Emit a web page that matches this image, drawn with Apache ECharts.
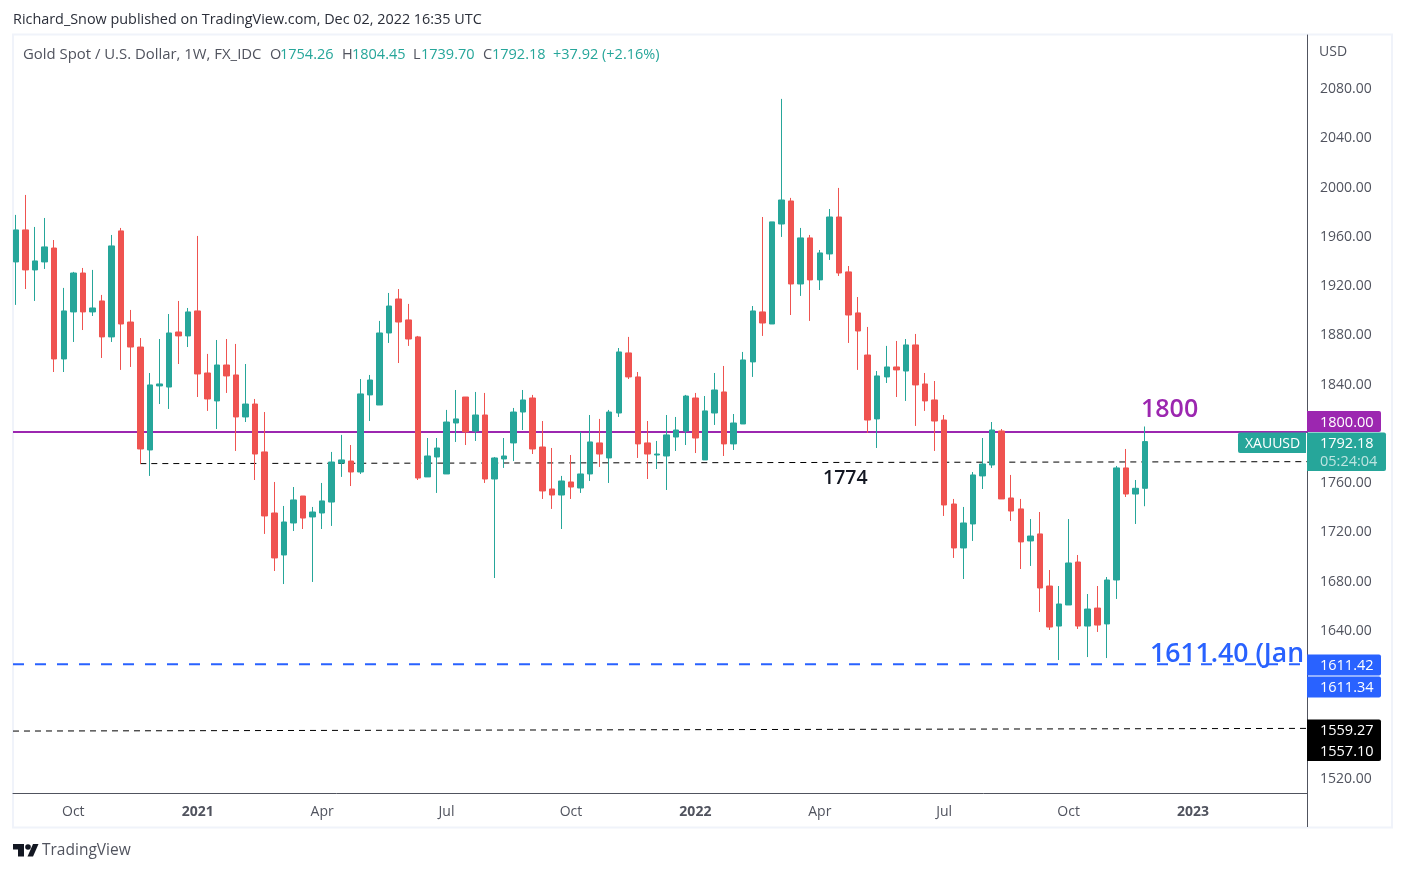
<!DOCTYPE html>
<html>
<head>
<meta charset="utf-8">
<title>XAUUSD weekly</title>
<script src="https://cdn.jsdelivr.net/npm/echarts@6/dist/echarts.min.js"></script>
<style>
  html, body { margin: 0; padding: 0; background: #fff; }
  #chart { width: 1405px; height: 872px; }
</style>
</head>
<body>
<div id="chart"></div>
<script>
// weekly candles
const opens = [
  1938.1, 1964.1, 1931.6, 1938.1, 1949.4, 1859.3, 1897.5, 1929.1, 1897.5, 1906.4,
  1877.2, 1963.3, 1889.3, 1869, 1785.4, 1837.4, 1836.5, 1881.2, 1878, 1898.3,
  1847.9, 1825.2, 1854.4, 1846.3, 1812.2, 1822.7, 1783.8, 1734.2, 1700.1, 1726.1,
  1748, 1731, 1734.2, 1743.1, 1774.8, 1776.4, 1767.5, 1830.1, 1821.9, 1880.4,
  1908, 1891, 1877.2, 1763.5, 1779.7, 1765.9, 1807.3, 1828.4, 1800.8, 1813.8,
  1761.8, 1778.1, 1791.1, 1816.2, 1827.6, 1787.8, 1753.7, 1748.8, 1759.4, 1754.5,
  1765.9, 1791.1, 1778.9, 1815.4, 1864.2, 1844.7, 1791.1, 1781.3, 1780.5, 1795.9,
  1800.8, 1827.6, 1777.3, 1815.4, 1832.5, 1790.3, 1806.5, 1856.9, 1897.5, 1887.7,
  1968.9, 1987.6, 1920.2, 1957.6, 1923.5, 1944.6, 1974.6, 1930, 1896.7, 1862.5,
  1810.6, 1844.7, 1852.8, 1849.5, 1870.7, 1839, 1826, 1809.7, 1741.5, 1705.8,
  1725.3, 1764.3, 1773.2, 1800.8, 1746.4, 1737.5, 1711.5, 1717.2, 1674.9, 1642.4,
  1659.5, 1694.4, 1642.4, 1657, 1644.1, 1679.8, 1770.8, 1749.6, 1754.26
];
const closes = [
  1964.1, 1931.6, 1938.9, 1950.3, 1859.3, 1898.3, 1929.1, 1897.5, 1900.7, 1877.2,
  1951.1, 1887.7, 1869, 1786.2, 1838.2, 1839, 1880.4, 1878, 1897.5, 1847.1,
  1826.8, 1854.4, 1845.5, 1812.2, 1822.7, 1782.1, 1731.8, 1697.7, 1726.9, 1744.8,
  1730.1, 1735, 1744, 1775.6, 1777.3, 1767.5, 1830.9, 1842.2, 1880.4, 1902.3,
  1889.3, 1875.5, 1762.6, 1780.5, 1787, 1808.1, 1810.6, 1800, 1813.8, 1761.8,
  1778.9, 1780.5, 1816.2, 1826, 1786.2, 1752.1, 1748.8, 1760.2, 1755.3, 1765.9,
  1791.9, 1782.1, 1816.2, 1865, 1844.7, 1790.3, 1782.1, 1782.1, 1797.6, 1801.6,
  1829.2, 1795.1, 1817.1, 1834.1, 1790.3, 1807.3, 1858.5, 1898.3, 1888.5, 1970.6,
  1988.4, 1920.2, 1957.6, 1923.5, 1945.4, 1974.6, 1929.1, 1895, 1882, 1809.7,
  1845.5, 1852.8, 1850.4, 1870.7, 1838.2, 1825.2, 1808.9, 1740.7, 1705.8, 1726.1,
  1765.1, 1774, 1801.6, 1745.6, 1735.8, 1710.7, 1715.5, 1673.3, 1641.6, 1660.3,
  1693.6, 1642.4, 1656.2, 1643.2, 1679.8, 1770.8, 1749.6, 1754.26, 1792.18
];
const lows = [
  1903.2, 1916.1, 1906.4, 1932.4, 1848.7, 1848.7, 1873.1, 1882.8, 1894.2, 1860.1,
  1873.1, 1850.4, 1852.8, 1774, 1764.3, 1822.7, 1818.7, 1855.2, 1869, 1828.4,
  1817.1, 1802.4, 1831.7, 1784.6, 1808.1, 1761, 1717.2, 1687.1, 1676.5, 1719.6,
  1721.2, 1678.2, 1721.2, 1723.7, 1763.5, 1756.1, 1765.9, 1808.9, 1821.9, 1872.3,
  1856, 1869.9, 1761, 1763.5, 1750.5, 1765.9, 1791.9, 1789.4, 1792.7, 1758.6,
  1681.4, 1770.8, 1776.4, 1801.6, 1782.1, 1745.6, 1737.5, 1721.2, 1745.6, 1750.5,
  1760.2, 1771.6, 1758.6, 1812.2, 1843, 1778.9, 1761.8, 1769.9, 1752.9, 1784.6,
  1789.4, 1782.9, 1777.3, 1805.7, 1780.5, 1785.4, 1806.5, 1844.7, 1878, 1887.7,
  1958.4, 1895, 1910.5, 1890.2, 1915.3, 1939.7, 1926.7, 1872.3, 1850.4, 1799.2,
  1787, 1839.8, 1828.4, 1825.2, 1804.9, 1817.1, 1784.6, 1731.8, 1697.7, 1680.6,
  1711.5, 1753.7, 1770.8, 1745.6, 1727.7, 1688.7, 1691.2, 1653.8, 1639.2, 1614.8,
  1659.5, 1640, 1617.2, 1637.6, 1616.4, 1664.4, 1747.2, 1725.3, 1739.7
];
const highs = [
  1976.3, 1992.5, 1966.5, 1973.8, 1955.9, 1917, 1930, 1933.2, 1931.6, 1911.3,
  1960, 1965.7, 1899.1, 1876.3, 1847.9, 1875.5, 1895.8, 1906.4, 1900.7, 1959.2,
  1863.4, 1874.7, 1875.5, 1871.5, 1855.2, 1826.8, 1816.2, 1759.4, 1739.9, 1755.3,
  1748, 1739.1, 1758.6, 1783.8, 1797.6, 1789.4, 1843, 1846.3, 1890.2, 1912.9,
  1916.1, 1904, 1878, 1795.1, 1795.1, 1817.9, 1834.1, 1828.4, 1832.5, 1831.7,
  1779.7, 1795.1, 1819.5, 1834.1, 1830.1, 1808.9, 1787, 1764.3, 1781.3, 1800,
  1813.8, 1810.6, 1817.9, 1868.2, 1877.2, 1848.7, 1808.9, 1792.7, 1813.8, 1812.2,
  1830.1, 1831.7, 1829.2, 1847.9, 1853.6, 1814.6, 1865, 1902.3, 1974.6, 1970.6,
  2070.5, 1990.1, 1965.7, 1960, 1947.8, 1981.1, 1998.2, 1934.8, 1909.6, 1885.3,
  1849.5, 1869.9, 1873.9, 1875.5, 1879.6, 1847.9, 1841.4, 1813.8, 1745.6, 1739.1,
  1767.5, 1795.1, 1808.1, 1802.4, 1765.1, 1745.6, 1729.3, 1735, 1687.9, 1674.9,
  1729.3, 1700.1, 1668.4, 1674.9, 1682.2, 1772.4, 1786.2, 1761, 1804.45
];

// week index of each time tick
const timeTickWeeks = [6, 19, 32, 45, 58, 71, 84, 97, 110, 123];
const timeTickLabels = ['Oct', '2021', 'Apr', 'Jul', 'Oct', '2022', 'Apr', 'Jul', 'Oct', '2023'];
const priceTicks = [2080, 2040, 2000, 1960, 1920, 1880, 1840, 1760, 1720, 1680, 1640, 1520];

const resistance = 1800;
const midLine = [1774.3, 1775.9];
const janLow = [1611.34, 1611.42];
const lowerLine = [1557.1, 1559.27];
const midLineStartWeek = 13;

const last = opens.length - 1;
const xMin = -0.303;
const xMax = 134.91;

const UP = '#26a69a';
const DOWN = '#ef5350';
const PURPLE = '#9c27b0';
const BLUE = '#2962ff';
const GREY = '#50535e';
const FONT = '"Open Sans", sans-serif';

const candleData = opens.map((o, i) => [i, o, closes[i], lows[i], highs[i]]);
const fmt = v => v.toFixed(2);

function levelSeries(points, color, width, dash) {
    return {
        type: 'line',
        data: points,
        symbol: 'none',
        silent: true,
        z: 1,
        lineStyle: { color: color, width: width, type: dash || 'solid' }
    };
}

function text(x, y, str, fontSize, fill, extra) {
    return {
        type: 'text',
        x: x,
        y: y,
        silent: true,
        z: 20,
        style: Object.assign({
            text: str,
            fontFamily: FONT,
            fontSize: fontSize,
            fill: fill,
            textVerticalAlign: 'middle'
        }, extra || {})
    };
}

function priceTag(top, height, right, fill) {
    return {
        type: 'rect',
        silent: true,
        z: 15,
        shape: { x: 1307, y: top, width: right - 1307, height: height, r: [0, 2, 2, 0] },
        style: { fill: fill }
    };
}

const overlays = [
    // pane frame
    { type: 'rect', silent: true, z: 0, shape: { x: 13, y: 34.5, width: 1379, height: 793 },
      style: { fill: 'none', stroke: '#f0f3fa', lineWidth: 2 } },
    { type: 'line', silent: true, z: 10, shape: { x1: 1307.5, y1: 793, x2: 1307.5, y2: 827 },
      style: { stroke: GREY, lineWidth: 1 } },

    text(13, 20, 'Richard_Snow published on TradingView.com, Dec 02, 2022 16:35 UTC', 14.4, '#2a2e39'),

    // legend row
    text(23, 55, 'Gold Spot / U.S. Dollar, 1W, FX_IDC', 14.9, GREY),
    text(270, 55, 'O', 14.5, GREY),
    text(280, 55, fmt(opens[last]), 14.5, UP),
    text(342, 55, 'H', 14.5, GREY),
    text(352, 55, fmt(highs[last]), 14.5, UP),
    text(413, 55, 'L', 14.5, GREY),
    text(421, 55, fmt(lows[last]), 14.5, UP),
    text(483, 55, 'C', 14.5, GREY),
    text(492, 55, fmt(closes[last]), 14.5, UP),
    text(553, 55, '+37.92 (+2.16%)', 14.5, UP),

    text(1319, 52, 'USD', 14, GREY),

    // annotations
    text(1141, 410, '1800', 25, PURPLE, { fontWeight: 600 }),
    text(823, 478, '1774', 19.5, '#131722', { fontWeight: 600 }),
    text(1150, 654, '1611.40 (Jan', 26.6, BLUE, { fontWeight: 600 }),

    // price tags
    priceTag(411, 21, 1381, PURPLE),
    text(1320, 423, '1800.00', 14.5, '#fff'),
    priceTag(432.5, 38.5, 1386, UP),
    text(1320, 444, fmt(closes[last]), 14.5, '#fff'),
    text(1320, 462, '05:24:04', 14.5, 'rgba(255,255,255,0.7)'),
    { type: 'rect', silent: true, z: 15, shape: { x: 1238, y: 432.5, width: 68, height: 20.5, r: [2, 0, 0, 2] }, style: { fill: UP } },
    text(1245, 444, 'XAUUSD', 14, '#fff'),
    priceTag(654.5, 21, 1381, BLUE),
    text(1320, 666, fmt(janLow[1]), 14.5, '#fff'),
    priceTag(676.5, 21, 1381, BLUE),
    text(1320, 688, fmt(janLow[0]), 14.5, '#fff'),
    priceTag(719.5, 41.5, 1381, '#000'),
    text(1320, 731, fmt(lowerLine[1]), 14.5, '#fff'),
    text(1320, 752, fmt(lowerLine[0]), 14.5, '#fff'),

    // TradingView mark
    { type: 'polygon', silent: true, z: 20, style: { fill: '#131722' },
      shape: { points: [[13, 844], [24, 844], [24, 856.5], [18, 856.5], [18, 849.5], [13, 849.5]] } },
    { type: 'polygon', silent: true, z: 20, style: { fill: '#131722' },
      shape: { points: [[33, 844], [38.5, 844], [33, 856.5], [27.5, 856.5]] } },
    { type: 'circle', silent: true, z: 20, shape: { cx: 28, cy: 847, r: 2.8 }, style: { fill: '#131722' } },
    text(42, 851, 'TradingView', 15.5, GREY)
];

const chart = echarts.init(document.getElementById('chart'), null, { renderer: 'canvas' });

chart.setOption({
    animation: false,
    backgroundColor: '#fff',
    grid: { left: 13, top: 35, width: 1294, height: 758, containLabel: false },
    xAxis: {
        type: 'value',
        min: xMin,
        max: xMax,
        splitLine: { show: false },
        axisLine: { onZero: false, lineStyle: { color: GREY, width: 1 } },
        axisTick: { show: false },
        axisLabel: {
            customValues: timeTickWeeks,
            margin: 12,
            fontFamily: FONT,
            fontSize: 14,
            color: GREY,
            formatter: function (value) {
                const label = timeTickLabels[timeTickWeeks.indexOf(value)];
                return /^\d/.test(label) ? '{year|' + label + '}' : label;
            },
            rich: { year: { fontFamily: FONT, fontSize: 14, fontWeight: 'bold', color: GREY } }
        }
    },
    yAxis: {
        type: 'value',
        position: 'right',
        min: 1506.8,
        max: 2122.4,
        splitLine: { show: false },
        axisLine: { show: true, onZero: false, lineStyle: { color: GREY, width: 1 } },
        axisTick: { show: false },
        axisLabel: {
            customValues: priceTicks,
            margin: 13,
            color: GREY,
            formatter: v => '{p|' + v.toFixed(2) + '}',
            // nudges the text down so it sits on the price level
            rich: { p: { fontFamily: FONT, fontSize: 14, color: GREY, padding: [4, 0, 0, 0] } }
        }
    },
    series: [
        levelSeries([[xMin, resistance], [xMax, resistance]], PURPLE, 2),
        levelSeries([[midLineStartWeek, midLine[0]], [xMax, midLine[1]]], '#000', 1, [6, 5]),
        levelSeries([[xMin, janLow[0]], [xMax, janLow[1]]], BLUE, 2, [11, 11]),
        levelSeries([[xMin, lowerLine[0]], [xMax, lowerLine[1]]], '#000', 1, [6, 5]),
        {
            type: 'candlestick',
            data: candleData,
            barWidth: 6,
            z: 5,
            silent: true,
            itemStyle: {
                color: UP,
                color0: DOWN,
                borderColor: UP,
                borderColor0: DOWN,
                borderWidth: 1
            }
        }
    ],
    graphic: { elements: overlays }
});
</script>
</body>
</html>
